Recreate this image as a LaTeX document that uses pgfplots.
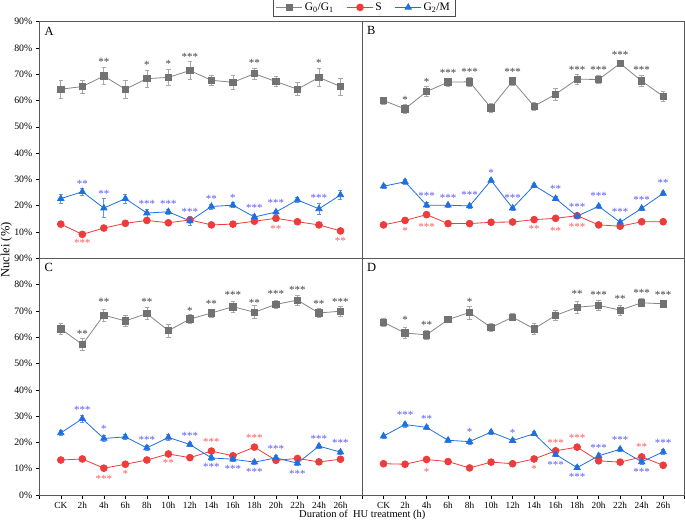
\documentclass[border=0pt]{standalone}
\usepackage{fontspec}
\setmainfont{Liberation Serif}
\usepackage{pgfplots}
\pgfplotsset{compat=1.18}
\usepackage{pgfplotstable}
\definecolor{colG}{HTML}{858585}
\definecolor{colGm}{HTML}{727272}
\definecolor{colGe}{HTML}{A8A8A8}
\definecolor{colS}{HTML}{EE3B3B}
\definecolor{colM}{HTML}{1F6FE0}
\definecolor{colMe}{HTML}{5A9BEA}
\definecolor{colSe}{HTML}{F08080}
\definecolor{starG}{HTML}{404040}
\definecolor{starS}{HTML}{FF5A5A}
\definecolor{starM}{HTML}{5A5AF5}

\pgfplotstableread{
x g ge s se m me
0 64.3 3.4 13.0 0.6 22.7 1.8
1 65.3 2.5 9.1 0.6 25.3 1.2
2 69.3 3.3 11.5 0.6 19.1 3.7
3 64.3 3.3 13.3 0.6 22.7 1.8
4 68.3 3.2 14.4 0.6 17.2 1.5
5 68.8 3.0 13.5 0.6 17.7 1.0
6 71.4 3.5 14.6 0.8 14.2 1.8
7 67.7 2.0 12.7 0.6 19.7 1.0
8 66.9 2.8 13.0 0.6 20.2 1.0
9 70.2 2.2 14.1 0.6 15.7 1.0
10 67.2 1.8 15.2 0.6 17.6 0.8
11 64.3 2.5 13.9 0.6 22.2 0.8
12 68.8 3.4 12.7 0.6 18.8 2.0
13 65.3 3.3 10.4 0.6 24.1 1.8
}\tA
\pgfplotstableread{
x g ge s se m me
0 60.0 1.3 12.7 0.6 27.4 0.8
1 56.8 1.7 14.4 0.6 29.1 0.8
2 63.4 2.0 16.6 0.8 20.2 1.0
3 67.0 1.5 13.2 0.6 20.2 0.8
4 67.1 1.8 13.2 0.6 19.9 0.8
5 57.2 1.7 13.7 0.6 29.6 0.8
6 67.4 1.5 13.8 0.6 19.1 0.8
7 57.8 1.5 14.7 0.6 27.7 0.8
8 62.4 2.2 15.2 0.6 22.7 0.8
9 68.1 1.8 16.2 0.6 16.0 0.8
10 68.0 1.5 12.7 0.6 19.8 0.8
11 74.1 1.3 12.2 0.6 13.7 0.8
12 67.4 2.0 13.9 0.6 19.0 0.8
13 61.6 1.8 13.9 0.6 24.7 0.8
}\tB
\pgfplotstableread{
x g ge s se m me
0 63.2 2.0 13.3 0.6 23.6 0.8
1 57.2 2.2 13.7 0.6 29.0 1.2
2 68.4 2.3 10.2 0.6 21.5 1.2
3 66.2 2.2 11.7 0.6 22.1 1.0
4 69.0 2.2 13.3 0.6 17.9 1.0
5 62.5 2.5 15.6 0.6 21.9 1.0
6 66.9 1.8 14.2 0.6 19.2 0.8
7 69.2 1.5 16.7 0.6 14.1 0.8
8 71.6 2.2 14.9 0.6 13.6 0.8
9 69.5 2.5 18.2 1.0 12.5 0.8
10 72.5 1.7 13.2 0.6 14.1 0.8
11 74.1 2.0 13.9 0.6 12.1 0.8
12 69.2 1.8 12.6 0.6 18.6 0.8
13 69.9 1.8 13.6 0.6 16.3 0.8
}\tC
\pgfplotstableread{
x g ge s se m me
0 65.7 1.5 11.9 0.6 22.4 0.8
1 61.6 2.2 11.7 0.6 26.8 1.0
2 60.9 1.8 13.5 0.6 25.7 0.8
3 66.7 1.2 12.7 0.6 20.8 0.8
4 69.4 2.5 10.3 0.6 20.3 1.0
5 63.7 1.5 12.5 0.6 23.9 0.8
6 67.6 1.3 11.9 0.6 20.7 0.8
7 63.2 2.0 13.7 0.6 23.3 0.8
8 68.3 1.8 16.8 0.6 15.4 0.8
9 71.4 2.2 18.2 0.8 10.4 0.8
10 72.1 2.0 13.0 0.6 14.9 0.8
11 70.3 2.0 12.5 0.6 17.4 0.8
12 73.1 1.5 14.5 0.6 12.6 0.8
13 72.7 1.2 11.3 0.6 16.4 0.8
}\tD

\pgfplotsset{
  panel/.style={scale only axis, width=322.7pt, height=236.7pt,
    xmin=-1, xmax=14, ymin=0, ymax=90,
    axis line style={black!65, line width=0.8pt},
    tick style={black, line width=0.6pt},
    tick align=outside, major tick length=3.5pt, clip=false,
    /pgf/number format/assume math mode=true,
    yticklabel style={font=\fontsize{9.8}{11}\selectfont},
    xticklabel style={font=\fontsize{9.3}{11}\selectfont}},
  gline/.style={colG, line width=0.8pt, mark=square*, mark size=3.2pt,
    mark options={solid, fill=colGm, draw=colGm},
    error bars/.cd, y dir=both, y explicit,
    error bar style={colGe, line width=0.7pt},
    error mark options={rotate=90, mark size=2.2pt, colGe, line width=0.7pt}},
  sline/.style={colS, line width=0.8pt, mark=*, mark size=3.4pt,
    mark options={solid, fill=colS, draw=colS},
    error bars/.cd, y dir=both, y explicit,
    error bar style={colSe, line width=0.7pt},
    error mark options={rotate=90, mark size=2pt, colSe, line width=0.7pt}},
  mline/.style={colM, line width=0.8pt, mark=triangle*, mark size=3.6pt,
    mark options={solid, fill=colM, draw=colM},
    error bars/.cd, y dir=both, y explicit,
    error bar style={colMe, line width=0.7pt},
    error mark options={rotate=90, mark size=2pt, colMe, line width=0.7pt}},
  stars/.style={forget plot, only marks, mark=*, mark size=0pt,
    mark options={draw=none, fill=none},
    nodes near coords, point meta=explicit symbolic,
    nodes near coords style={anchor=center, inner sep=0pt, text=#1,
      font=\fontsize{11}{11}\selectfont}},
}
\newcommand{\stars}[2]{\addplot[stars=#1] table[meta=l, row sep=\\] {x y l\\ #2};}
\newcommand{\series}[1]{%
  \addplot[gline] table[x=x, y=g, y error=ge] {#1};
  \addplot[sline] table[x=x, y=s, y error=se] {#1};
  \addplot[mline] table[x=x, y=m, y error=me] {#1};}
\newcommand{\letter}[1]{\node[anchor=north west, inner sep=0pt, font=\fontsize{12.5}{13}\selectfont] at (rel axis cs:0,1) [xshift=5pt, yshift=-5pt] {#1};}

\begin{document}
\begin{tikzpicture}
\path[use as bounding box] (-39.3pt,-30pt) rectangle (645.7pt,495pt);

% Panel A
\begin{axis}[panel, at={(0pt,236.7pt)}, anchor=south west,
  xtick=\empty, ytick={10,20,...,90}, ytick pos=left,
  yticklabels={10\%,20\%,30\%,40\%,50\%,60\%,70\%,80\%,90\%},
  legend style={at={(1.006,1.06)}, anchor=center, legend columns=3,
    draw=black!70, line width=0.6pt, font=\fontsize{11.5}{13}\selectfont,
    inner xsep=3pt, inner ysep=2pt,
    /tikz/every even column/.append style={column sep=11pt}},
  legend image code/.code={\draw[mark repeat=2, mark phase=2, #1]
    plot coordinates {(0pt,0pt) (13pt,0pt) (26pt,0pt)};},
  legend cell align=left]
\series{\tA}
\legend{G\textsubscript{0}/G\textsubscript{1}, S, G\textsubscript{2}/M}
\stars{starG}{2 74.6 **\\ 4 73.7 *\\ 5 74.1 *\\ 6 76.4 ***\\ 9 74.4 **\\ 12 74.4 *\\}
\stars{starM}{1 28.4 **\\ 2 24.4 **\\ 4 20.8 ***\\ 5 20.6 ***\\ 6 17.6 ***\\ 7 22.5 **\\ 8 23.1 *\\ 9 19.0 ***\\ 10 20.9 ***\\ 12 23.1 ***\\}
\stars{starS}{1 5.7 ***\\ 10 11.0 **\\ 13 6.8 **\\}
\letter{A}
\end{axis}

% Panel B
\begin{axis}[panel, at={(322.7pt,236.7pt)}, anchor=south west,
  xtick=\empty, ytick=\empty]
\series{\tB}
\stars{starG}{1 60.3 *\\ 2 67.2 *\\ 3 70.4 ***\\ 4 70.8 ***\\ 6 70.7 ***\\ 9 71.6 ***\\ 10 71.6 ***\\ 11 77.5 ***\\ 12 71.6 ***\\}
\stars{starM}{2 23.6 ***\\ 3 22.8 ***\\ 4 24.1 ***\\ 5 32.4 *\\ 6 23.1 ***\\ 8 26.3 **\\ 9 19.7 ***\\ 10 23.7 ***\\ 11 17.6 ***\\ 12 22.2 ***\\ 13 28.6 **\\}
\stars{starS}{1 10.4 *\\ 2 12.0 ***\\ 7 11.1 **\\ 8 10.6 **\\ 9 11.9 ***\\}
\letter{B}
\end{axis}

% Panel C
\begin{axis}[panel, at={(0pt,0pt)}, anchor=south west,
  xtick={-1,0,...,14}, xtick pos=bottom,
  xticklabels={,CK,2h,4h,6h,8h,10h,12h,14h,16h,18h,20h,22h,24h,26h,},
  ytick={0,10,...,90}, ytick pos=left,
  yticklabels={0\%,10\%,20\%,30\%,40\%,50\%,60\%,70\%,80\%,90\%}]
\series{\tC}
\stars{starG}{1 61.4 **\\ 2 73.6 **\\ 4 73.6 **\\ 6 70.0 *\\ 7 72.8 **\\ 8 76.1 ***\\ 9 73.2 **\\ 10 76.3 ***\\ 11 77.9 ***\\ 12 72.6 **\\ 13 73.5 ***\\}
\stars{starM}{1 32.2 ***\\ 2 25.2 *\\ 4 21.0 ***\\ 6 22.3 ***\\ 7 10.6 ***\\ 8 10.1 ***\\ 9 8.8 ***\\ 10 17.7 ***\\ 11 8.0 ***\\ 12 21.4 ***\\ 13 20.0 ***\\}
\stars{starS}{2 6.2 ***\\ 3 8.1 *\\ 5 12.2 **\\ 7 20.1 ***\\ 9 21.6 ***\\}
\letter{C}
\end{axis}

% Panel D
\begin{axis}[panel, at={(322.7pt,0pt)}, anchor=south west,
  xtick={-1,0,...,14}, xtick pos=bottom,
  xticklabels={,CK,2h,4h,6h,8h,10h,12h,14h,16h,18h,20h,22h,24h,26h,},
  ytick=\empty]
\series{\tD}
\stars{starG}{1 66.5 *\\ 2 64.7 **\\ 4 73.6 *\\ 9 76.3 **\\ 10 76.0 ***\\ 11 74.5 **\\ 12 77.0 ***\\ 13 76.0 ***\\}
\stars{starM}{1 30.5 ***\\ 2 29.1 **\\ 4 23.9 *\\ 6 23.7 *\\ 8 11.4 ***\\ 9 6.9 ***\\ 10 17.9 ***\\ 11 21.0 ***\\ 12 8.8 ***\\ 13 19.8 ***\\}
\stars{starS}{2 8.8 *\\ 7 9.9 *\\ 8 19.8 ***\\ 9 21.7 ***\\ 12 18.2 **\\}
\letter{D}
\end{axis}

\node[rotate=90, font=\fontsize{12.5}{14}\selectfont] at (-33pt,245pt) {Nuclei (\%)};
\node[font=\fontsize{10.5}{12}\selectfont] at (323pt,-20pt) {Duration of\ \ HU treatment (h)};
\end{tikzpicture}
\end{document}
